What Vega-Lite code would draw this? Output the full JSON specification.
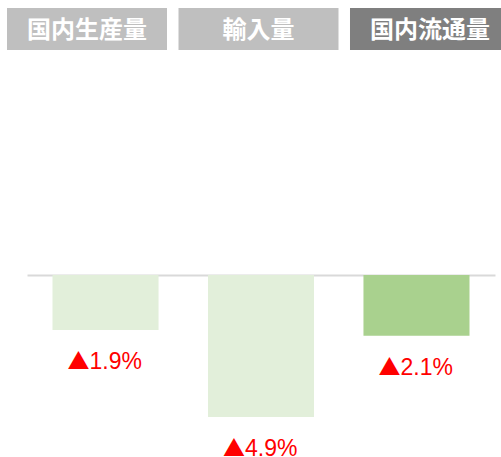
{
  "$schema": "https://vega.github.io/schema/vega-lite/v6.json",
  "padding": {"left": 7, "top": 8, "right": 0, "bottom": 0},
  "background": "white",
  "config": {"view": {"stroke": null}},
  "resolve": {"scale": {"color": "independent"}},
  "datasets": {
    "rows": [
      {"item": "国内生産量", "change": -1.9, "sign": "▲", "pct": "1.9%"},
      {"item": "輸入量", "change": -4.9, "sign": "▲", "pct": "4.9%"},
      {"item": "国内流通量", "change": -2.1, "sign": "▲", "pct": "2.1%"}
    ]
  },
  "spacing": 225,
  "vconcat": [
    {
      "width": 503,
      "height": 42,
      "data": {"name": "rows"},
      "layer": [
        {
          "mark": {"type": "rect"},
          "encoding": {
            "x": {"field": "item", "type": "nominal", "sort": null, "axis": null,
                  "scale": {"paddingInner": 0.067, "paddingOuter": 0}},
            "color": {"field": "item", "type": "nominal", "legend": null,
                      "scale": {"domain": ["国内生産量", "輸入量", "国内流通量"], "range": ["#bfbfbf", "#bfbfbf", "#7f7f7f"]}}
          }
        },
        {
          "mark": {"type": "text", "color": "white", "fontSize": 24, "fontWeight": "bold", "font": "Noto Sans CJK JP", "baseline": "middle", "dy": 2},
          "encoding": {
            "x": {"field": "item", "type": "nominal", "sort": null, "axis": null},
            "text": {"field": "item"}
          }
        }
      ]
    },
    {
      "width": 488,
      "height": 182,
      "data": {"name": "rows"},
      "layer": [
        {
          "mark": {"type": "bar"},
          "encoding": {
            "x": {"field": "item", "type": "nominal", "sort": null,
                  "scale": {"range": [20, 488], "paddingInner": 0.318, "paddingOuter": 0.164},
                  "axis": {"orient": "top", "title": null, "labels": false, "ticks": false, "domainColor": "#d9d9d9", "domainWidth": 2, "grid": false}},
            "y": {"field": "change", "type": "quantitative", "axis": null,
                  "scale": {"domain": [-6.28, 0], "nice": false}},
            "color": {"field": "item", "type": "nominal", "legend": null,
                      "scale": {"domain": ["国内生産量", "輸入量", "国内流通量"], "range": ["#e2efda", "#e2efda", "#a9d18e"]}}
          }
        },
        {
          "mark": {"type": "text", "color": "#ff0000", "fontSize": 22, "font": "Noto Sans CJK JP", "baseline": "middle", "align": "right", "dx": -16, "dy": 32},
          "encoding": {
            "x": {"field": "item", "type": "nominal", "sort": null},
            "y": {"field": "change", "type": "quantitative"},
            "text": {"field": "sign"}
          }
        },
        {
          "mark": {"type": "text", "color": "#ff0000", "fontSize": 23, "font": "Liberation Sans", "baseline": "middle", "align": "left", "dx": -16, "dy": 32},
          "encoding": {
            "x": {"field": "item", "type": "nominal", "sort": null},
            "y": {"field": "change", "type": "quantitative"},
            "text": {"field": "pct"}
          }
        }
      ]
    }
  ]
}
